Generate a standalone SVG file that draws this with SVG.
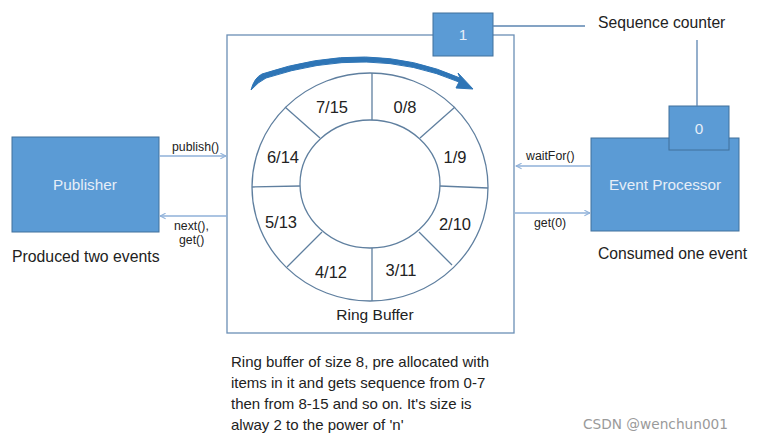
<svg xmlns="http://www.w3.org/2000/svg" width="768" height="441" viewBox="0 0 768 441">
<style>
.t{font-family:"Liberation Sans","Open Sans",sans-serif;fill:#222}
.box{fill:#5b9bd5;stroke:#41719c;stroke-width:1}
.wt{font-family:"Liberation Sans","Open Sans",sans-serif;fill:#e6eef8;font-size:15.3px;text-anchor:middle}
.ln{stroke:#5b84b1;stroke-width:1.3;fill:none}
.rg{stroke:#5f7f9f;stroke-width:1.3;fill:none}
.ar{stroke:#8fb1d9;stroke-width:1.5;fill:none}
.sm{font-size:12.3px}
</style>
<defs>
<marker id="ah" viewBox="0 0 10 10" refX="9" refY="5" markerWidth="7" markerHeight="7" markerUnits="userSpaceOnUse" orient="auto">
<path d="M1,1 L9,5 L1,9" fill="none" stroke="#8fb1d9" stroke-width="1.5"/>
</marker>
</defs>
<rect width="768" height="441" fill="#fff"/>
<g id="ringbuffer">
<rect x="227" y="35" width="287" height="298" fill="#fff" stroke="#6b8fb5" stroke-width="1.3"/>
<ellipse cx="370" cy="187" rx="118" ry="114" class="rg"/>
<ellipse cx="370" cy="184" rx="70" ry="64" class="rg"/>
<line x1="372" y1="73" x2="372" y2="120" class="rg"/>
<line x1="372" y1="248" x2="372" y2="301" class="rg"/>
<line x1="252" y1="187" x2="300" y2="186" class="rg"/>
<line x1="440" y1="186" x2="488" y2="188" class="rg"/>
<line x1="285" y1="107" x2="320" y2="138" class="rg"/>
<line x1="420" y1="138" x2="455" y2="107" class="rg"/>
<line x1="287" y1="267" x2="322" y2="232" class="rg"/>
<line x1="419" y1="232" x2="452" y2="265" class="rg"/>
<g class="t" font-size="16.5" text-anchor="middle">
<text x="332" y="113">7/15</text>
<text x="405" y="113">0/8</text>
<text x="283" y="163">6/14</text>
<text x="455" y="163">1/9</text>
<text x="281" y="228">5/13</text>
<text x="455" y="230">2/10</text>
<text x="331" y="278">4/12</text>
<text x="401" y="276">3/11</text>
</g>
<text class="t" x="375" y="320" font-size="15.5" text-anchor="middle">Ring Buffer</text>
<path d="M251,90 Q254,78 262,74 Q370,38 460,78 L458,73 L473,89 L456,88 L459,82 Q370,44 266,78 Q258,82 251,90 Z" fill="#2e75b6" stroke="#2e75b6" stroke-width="1" stroke-linejoin="round"/>
</g>
<g id="seqcounter1">
<rect class="box" x="433" y="13" width="60" height="43"/>
<text class="wt" x="463" y="40">1</text>
</g>
<g id="publisher">
<rect class="box" x="12" y="137" width="147" height="95"/>
<text class="wt" x="85" y="190" font-size="16.5">Publisher</text>
<text class="t" x="12" y="262" font-size="15.8">Produced two events</text>
</g>
<g id="eventprocessor">
<rect class="box" x="591" y="138" width="148" height="93"/>
<rect class="box" x="669" y="106" width="60" height="44"/>
<text class="wt" x="699" y="134">0</text>
<text class="wt" x="665" y="190" font-size="15.8">Event Processor</text>
<text class="t" x="598" y="259" font-size="15.7">Consumed one event</text>
</g>
<g id="seqlabel">
<text class="t" x="598" y="28" font-size="15.7">Sequence counter</text>
</g>
<g id="connectors">
<line x1="493" y1="26" x2="585" y2="26" class="ln"/>
<line x1="697" y1="40" x2="697" y2="106" class="ln"/>
<line x1="159" y1="156" x2="226" y2="156" class="ar" marker-end="url(#ah)"/>
<line x1="227" y1="216" x2="160" y2="216" class="ar" marker-end="url(#ah)"/>
<line x1="591" y1="166" x2="516" y2="166" class="ar" marker-end="url(#ah)"/>
<line x1="515" y1="213" x2="590" y2="213" class="ar" marker-end="url(#ah)"/>
<g class="t sm">
<text x="172" y="151">publish()</text>
<text x="174" y="230">next(),</text>
<text x="179" y="244">get()</text>
<text x="526" y="160">waitFor()</text>
<text x="534" y="227">get(0)</text>
</g>
</g>
<g id="note" class="t" font-size="15">
<text x="231" y="367">Ring buffer of size 8, pre allocated with</text>
<text x="231" y="388">items in it and gets sequence from 0-7</text>
<text x="231" y="409">then from 8-15 and so on. It's size is</text>
<text x="231" y="430">alway 2 to the power of 'n'</text>
</g>
<text x="583" y="429" font-family="'DejaVu Sans','Liberation Sans',sans-serif" font-size="13.7" fill="#9a9a9a">CSDN @wenchun001</text>
</svg>
